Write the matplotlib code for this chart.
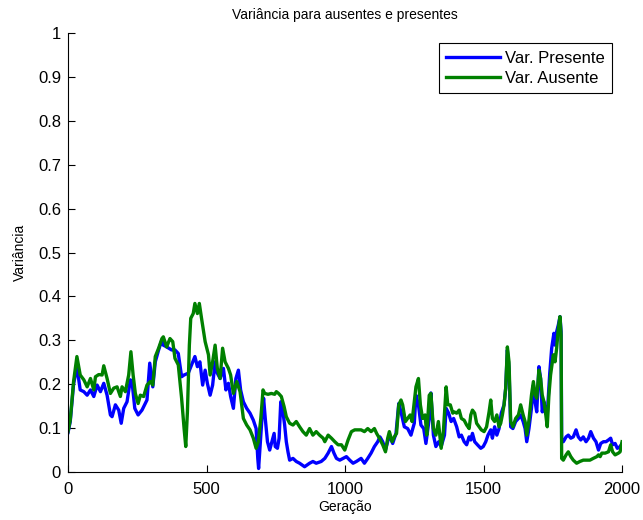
import matplotlib
matplotlib.use("Agg")
import matplotlib.pyplot as plt

plt.rcParams['font.family'] = ['Liberation Sans', 'DejaVu Sans']

# Var. Presente
gen_pres = [0, 8, 20, 32, 44, 57, 69, 81, 93, 105, 117, 129, 141, 153, 159, 171, 183, 192, 201, 213,
            225, 231, 241, 253, 267, 285, 295, 306, 315, 327, 339, 344, 356, 374, 386, 398, 410, 419, 434, 446,
            458, 467, 476, 486, 495, 503, 513, 522, 531, 539, 549, 561, 570, 579, 587, 597, 606, 615, 623, 633,
            645, 657, 669, 679, 685, 688, 692, 700, 706, 712, 720, 728, 736, 744, 748, 756, 762, 768, 774, 782,
            788, 794, 800, 812, 824, 836, 854, 872, 884, 896, 914, 927, 939, 951, 960, 969, 981, 993, 1005, 1017,
            1029, 1041, 1058, 1070, 1082, 1094, 1106, 1118, 1126, 1136, 1146, 1154, 1160, 1172, 1184, 1194, 1202, 1214, 1226, 1238,
            1250, 1256, 1265, 1274, 1284, 1292, 1304, 1310, 1319, 1328, 1338, 1347, 1359, 1365, 1374, 1383, 1392, 1403, 1412, 1420,
            1430, 1439, 1448, 1454, 1460, 1468, 1478, 1490, 1499, 1508, 1516, 1526, 1532, 1540, 1548, 1556, 1564, 1574, 1580, 1586,
            1592, 1598, 1606, 1616, 1626, 1634, 1643, 1650, 1656, 1664, 1673, 1680, 1686, 1692, 1700, 1706, 1712, 1718, 1724, 1730,
            1739, 1746, 1754, 1758, 1764, 1770, 1776, 1780, 1782, 1788, 1798, 1806, 1815, 1824, 1834, 1842, 1851, 1860, 1870, 1879,
            1887, 1897, 1906, 1915, 1923, 1933, 1942, 1951, 1959, 1966, 1975, 1983, 1993, 2000]
var_pres = [0.090, 0.115, 0.200, 0.240, 0.187, 0.183, 0.175, 0.187, 0.172, 0.198, 0.183, 0.202, 0.175, 0.130, 0.126, 0.153, 0.141, 0.111, 0.145, 0.160,
            0.210, 0.206, 0.145, 0.130, 0.141, 0.164, 0.248, 0.194, 0.251, 0.278, 0.301, 0.289, 0.285, 0.278, 0.278, 0.270, 0.217, 0.221, 0.225, 0.244,
            0.263, 0.240, 0.251, 0.198, 0.232, 0.202, 0.175, 0.198, 0.251, 0.225, 0.213, 0.236, 0.187, 0.202, 0.172, 0.145, 0.213, 0.232, 0.187, 0.160,
            0.145, 0.134, 0.118, 0.099, 0.031, 0.008, 0.046, 0.122, 0.168, 0.122, 0.069, 0.050, 0.069, 0.088, 0.058, 0.054, 0.077, 0.160, 0.145, 0.107,
            0.069, 0.046, 0.027, 0.031, 0.024, 0.020, 0.012, 0.020, 0.024, 0.020, 0.024, 0.031, 0.043, 0.058, 0.043, 0.031, 0.027, 0.031, 0.035, 0.027,
            0.020, 0.024, 0.031, 0.020, 0.031, 0.043, 0.058, 0.069, 0.080, 0.069, 0.050, 0.069, 0.084, 0.065, 0.088, 0.156, 0.137, 0.103, 0.099, 0.084,
            0.111, 0.175, 0.153, 0.107, 0.099, 0.065, 0.122, 0.180, 0.084, 0.058, 0.069, 0.058, 0.084, 0.145, 0.134, 0.115, 0.122, 0.103, 0.080, 0.084,
            0.069, 0.062, 0.080, 0.073, 0.088, 0.069, 0.062, 0.054, 0.058, 0.069, 0.084, 0.096, 0.077, 0.103, 0.084, 0.099, 0.134, 0.153, 0.191, 0.278,
            0.236, 0.103, 0.099, 0.115, 0.122, 0.130, 0.115, 0.099, 0.069, 0.099, 0.145, 0.198, 0.160, 0.137, 0.240, 0.213, 0.137, 0.160, 0.134, 0.130,
            0.225, 0.282, 0.316, 0.289, 0.320, 0.335, 0.354, 0.320, 0.077, 0.069, 0.080, 0.084, 0.077, 0.080, 0.096, 0.080, 0.073, 0.080, 0.069, 0.077,
            0.092, 0.077, 0.069, 0.050, 0.065, 0.069, 0.069, 0.073, 0.077, 0.062, 0.065, 0.054, 0.058, 0.065]

# Var. Ausente
gen_aus = [0, 8, 20, 32, 44, 57, 69, 81, 93, 99, 111, 123, 129, 141, 153, 165, 177, 189, 195, 207,
           219, 227, 235, 243, 253, 261, 273, 285, 297, 306, 315, 327, 339, 344, 356, 368, 378, 386, 398, 410,
           419, 425, 431, 438, 443, 452, 458, 467, 474, 482, 495, 507, 513, 522, 531, 539, 549, 558, 567, 579,
           587, 597, 609, 621, 633, 645, 657, 669, 679, 687, 696, 704, 710, 722, 734, 746, 752, 760, 770, 780,
           788, 800, 812, 824, 836, 848, 860, 872, 884, 896, 908, 921, 927, 939, 951, 963, 975, 987, 999, 1011,
           1023, 1035, 1058, 1070, 1082, 1094, 1106, 1114, 1124, 1136, 1146, 1154, 1160, 1170, 1178, 1186, 1194, 1202, 1208, 1218,
           1226, 1235, 1242, 1250, 1256, 1265, 1272, 1280, 1289, 1295, 1304, 1310, 1319, 1328, 1337, 1347, 1355, 1365, 1371, 1380,
           1389, 1394, 1403, 1412, 1420, 1430, 1439, 1448, 1454, 1460, 1468, 1475, 1484, 1492, 1502, 1511, 1520, 1526, 1532, 1540,
           1548, 1556, 1562, 1568, 1574, 1580, 1586, 1592, 1598, 1606, 1616, 1626, 1634, 1643, 1650, 1656, 1664, 1673, 1680, 1686,
           1692, 1700, 1706, 1712, 1718, 1724, 1730, 1736, 1742, 1752, 1758, 1764, 1770, 1776, 1780, 1782, 1788, 1798, 1806, 1815,
           1824, 1836, 1848, 1860, 1872, 1884, 1896, 1909, 1915, 1921, 1927, 1939, 1951, 1959, 1966, 1975, 1987, 1993, 2000]
var_aus = [0.092, 0.118, 0.206, 0.263, 0.221, 0.210, 0.194, 0.213, 0.187, 0.217, 0.222, 0.221, 0.242, 0.213, 0.179, 0.191, 0.194, 0.172, 0.194, 0.183,
           0.221, 0.274, 0.221, 0.179, 0.156, 0.175, 0.172, 0.198, 0.206, 0.198, 0.263, 0.282, 0.304, 0.308, 0.285, 0.304, 0.297, 0.259, 0.244, 0.168,
           0.099, 0.058, 0.137, 0.289, 0.350, 0.361, 0.384, 0.361, 0.384, 0.350, 0.297, 0.267, 0.221, 0.251, 0.289, 0.236, 0.213, 0.282, 0.251, 0.236,
           0.221, 0.179, 0.206, 0.183, 0.122, 0.107, 0.096, 0.077, 0.054, 0.069, 0.122, 0.187, 0.179, 0.177, 0.179, 0.177, 0.183, 0.179, 0.172, 0.149,
           0.126, 0.111, 0.107, 0.115, 0.103, 0.092, 0.084, 0.099, 0.084, 0.092, 0.084, 0.077, 0.069, 0.084, 0.077, 0.069, 0.062, 0.062, 0.050, 0.073,
           0.092, 0.096, 0.096, 0.092, 0.099, 0.092, 0.099, 0.088, 0.077, 0.062, 0.046, 0.077, 0.092, 0.069, 0.080, 0.088, 0.153, 0.164, 0.153, 0.115,
           0.122, 0.130, 0.115, 0.160, 0.194, 0.213, 0.153, 0.122, 0.130, 0.084, 0.175, 0.179, 0.099, 0.084, 0.115, 0.054, 0.092, 0.194, 0.153, 0.153,
           0.134, 0.137, 0.134, 0.141, 0.122, 0.118, 0.107, 0.099, 0.130, 0.141, 0.134, 0.111, 0.103, 0.096, 0.092, 0.103, 0.137, 0.164, 0.122, 0.115,
           0.130, 0.103, 0.111, 0.130, 0.153, 0.191, 0.285, 0.251, 0.115, 0.103, 0.122, 0.130, 0.153, 0.130, 0.115, 0.084, 0.118, 0.175, 0.206, 0.175,
           0.168, 0.232, 0.213, 0.175, 0.160, 0.134, 0.103, 0.175, 0.221, 0.267, 0.251, 0.282, 0.327, 0.354, 0.312, 0.031, 0.027, 0.039, 0.046, 0.035,
           0.027, 0.020, 0.024, 0.027, 0.027, 0.027, 0.031, 0.035, 0.039, 0.035, 0.043, 0.043, 0.046, 0.062, 0.046, 0.039, 0.043, 0.046, 0.069]

fig = plt.figure(figsize=(6.43, 5.2), dpi=100)
ax = fig.add_axes([0.1058, 0.0923, 0.8616, 0.8442])

ax.plot(gen_pres, var_pres, color=(0, 0, 1), lw=2.4, label='Var. Presente')
ax.plot(gen_aus, var_aus, color=(0, 0.5, 0), lw=2.4, label='Var. Ausente')

ax.set_xlim(0, 2000)
ax.set_ylim(0, 1)
ax.set_xticks([0, 500, 1000, 1500, 2000])
ax.set_yticks([i / 10 for i in range(11)])
ax.set_yticklabels(['0', '0.1', '0.2', '0.3', '0.4', '0.5', '0.6', '0.7', '0.8', '0.9', '1'])
ax.tick_params(direction='in', length=5, width=0.8, labelsize=12)
ax.tick_params(axis='x', pad=7)
ax.tick_params(axis='y', pad=5)
ax.spines['top'].set_visible(False)
ax.spines['right'].set_visible(False)

ax.set_title('Variância para ausentes e presentes', fontsize=10, pad=10)
ax.set_xlabel('Geração', fontsize=10, labelpad=2)
ax.set_ylabel('Variância', fontsize=10, labelpad=8)

leg = ax.legend(loc='upper right', fontsize=12, fancybox=False, framealpha=1,
                edgecolor='black', handlelength=3.2, borderpad=0.45, labelspacing=0.3,
                handletextpad=0.3, borderaxespad=0.6)
leg.get_frame().set_linewidth(0.8)

fig.savefig('out.png', dpi=100)
